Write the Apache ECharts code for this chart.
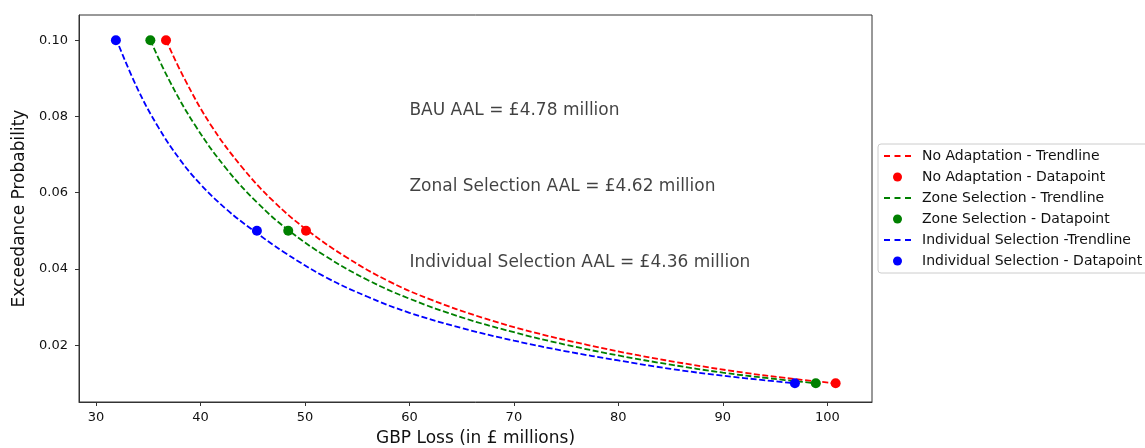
<!DOCTYPE html>
<html>
<head>
<meta charset="utf-8">
<script src="https://cdn.jsdelivr.net/npm/echarts@6/dist/echarts.min.js"></script>
<style>
html,body{margin:0;padding:0;background:#fff;}
#chart{width:1145px;height:448px;}
</style>
</head>
<body>
<div id="chart"></div>
<script>
// ---- data ----
const xTicks = [30, 40, 50, 60, 70, 80, 90, 100];
const yTicks = [0.02, 0.04, 0.06, 0.08, 0.10];

const noAdaptDatapoints = [[36.7, 0.10], [50.1, 0.05], [100.8, 0.01]];
const zoneDatapoints = [[35.2, 0.10], [48.4, 0.05], [98.9, 0.01]];
const individualDatapoints = [[31.9, 0.10], [45.4, 0.05], [96.9, 0.01]];

const noAdaptTrend = [[36.7, 0.1000], [38.5, 0.0897], [41, 0.0777], [44, 0.0666], [47, 0.0577], [50.2, 0.0502], [54, 0.0430], [58, 0.0368], [62, 0.0320], [67, 0.0272], [72, 0.0233], [77, 0.0201], [82, 0.0173], [87, 0.0149], [92, 0.0128], [96, 0.0114], [100.8, 0.0100]];
const zoneTrend = [[35.2, 0.1000], [37, 0.0895], [39.5, 0.0776], [42.5, 0.0662], [45.5, 0.0572], [48.4, 0.0502], [52, 0.0433], [56, 0.0371], [60, 0.0322], [65, 0.0273], [70, 0.0234], [75, 0.0201], [80, 0.0173], [85, 0.0149], [90, 0.0128], [94.5, 0.0113], [98.9, 0.0100]];
const individualTrend = [[31.9, 0.1005], [34, 0.0871], [36, 0.0770], [38, 0.0688], [40, 0.0622], [42.5, 0.0556], [45, 0.0502], [48, 0.0444], [52, 0.0378], [56, 0.0327], [60, 0.0285], [65, 0.0245], [70, 0.0212], [75, 0.0184], [80, 0.0160], [85, 0.0138], [90, 0.0120], [96.9, 0.0100]];

const annotations = [
  [60, 0.08, 'BAU AAL = £4.78 million'],
  [60, 0.06, 'Zonal Selection AAL = £4.62 million'],
  [60, 0.04, 'Individual Selection AAL = £4.36 million']
];

const legendNames = [
  'No Adaptation - Trendline', 'No Adaptation - Datapoint',
  'Zone Selection - Trendline', 'Zone Selection - Datapoint',
  'Individual Selection -Trendline', 'Individual Selection - Datapoint'
];

// ---- chart ----
const chart = echarts.init(document.getElementById('chart'), null, {renderer: 'canvas'});
const FONT = 'DejaVu Sans';
const TXT = '#111';
const dash = [6, 2.6];
const dashIcon = 'path://M0,0h6v2h-6z M10.5,0h6v2h-6z M21,0h6v2h-6z';

function trend(name, color, data) {
  return {
    name: name, type: 'line', data: data, smooth: 0.4, symbol: 'none',
    lineStyle: {color: color, width: 1.8, type: dash},
    itemStyle: {color: color}, z: 2, silent: true
  };
}
function pts(name, color, data) {
  return {
    name: name, type: 'scatter', data: data, symbol: 'circle', symbolSize: 10,
    itemStyle: {color: color, opacity: 1}, z: 3, silent: true
  };
}

chart.setOption({
  animation: false,
  backgroundColor: '#fff',
  textStyle: {fontFamily: FONT},
  grid: {left: 79, right: 273, top: 15, bottom: 46, show: true, borderColor: '#333', borderWidth: 1,
    containLabel: false, outerBoundsMode: 'none'},
  legend: {
    orient: 'vertical', left: 878, top: 144,
    data: [
      {name: legendNames[0], icon: dashIcon}, {name: legendNames[1], icon: 'circle'},
      {name: legendNames[2], icon: dashIcon}, {name: legendNames[3], icon: 'circle'},
      {name: legendNames[4], icon: dashIcon}, {name: legendNames[5], icon: 'circle'}
    ],
    itemWidth: 27, itemHeight: 9, itemGap: 7,
    padding: [5, 6, 5, 6],
    borderColor: '#ccc', borderWidth: 1, borderRadius: 3,
    backgroundColor: '#fff',
    textStyle: {fontFamily: FONT, fontSize: 14, color: TXT, lineHeight: 14, padding: [0, 0, 0, 6]},
    selectedMode: false
  },
  xAxis: {
    type: 'value', min: 28.37, max: 104.28,
    name: 'GBP Loss (in £ millions)', nameLocation: 'middle', nameGap: 28,
    nameTextStyle: {fontFamily: FONT, fontSize: 17, color: TXT},
    axisLine: {show: true, lineStyle: {color: '#333', width: 1}},
    axisTick: {show: true, length: 4, lineStyle: {color: '#333'}, customValues: xTicks},
    axisLabel: {fontFamily: FONT, fontSize: 13, color: TXT, margin: 9, customValues: xTicks,
      formatter: v => String(Math.round(v))},
    splitLine: {show: false}
  },
  yAxis: {
    type: 'value', min: 0.0051, max: 0.1066,
    name: 'Exceedance Probability', nameLocation: 'middle', nameGap: 50,
    nameTextStyle: {fontFamily: FONT, fontSize: 17, color: TXT},
    axisLine: {show: true, lineStyle: {color: '#333', width: 1}},
    axisTick: {show: true, length: 4, lineStyle: {color: '#333'}, customValues: yTicks},
    axisLabel: {fontFamily: FONT, fontSize: 13, color: TXT, margin: 11, customValues: yTicks,
      formatter: v => v.toFixed(2)},
    splitLine: {show: false}
  },
  series: [
    trend(legendNames[0], '#ff0000', noAdaptTrend),
    pts(legendNames[1], '#ff0000', noAdaptDatapoints),
    trend(legendNames[2], '#008000', zoneTrend),
    pts(legendNames[3], '#008000', zoneDatapoints),
    trend(legendNames[4], '#0000ff', individualTrend),
    pts(legendNames[5], '#0000ff', individualDatapoints),
    {
      name: 'annotations', type: 'scatter', symbolSize: 0, silent: true, z: 4,
      data: annotations.map(a => ({value: [a[0], a[1]], label: {formatter: a[2]}})),
      itemStyle: {color: 'transparent'},
      label: {show: true, position: 'right', distance: 0, offset: [0, -6],
        fontFamily: FONT, fontSize: 17, color: TXT}
    }
  ]
});
</script>
</body>
</html>
